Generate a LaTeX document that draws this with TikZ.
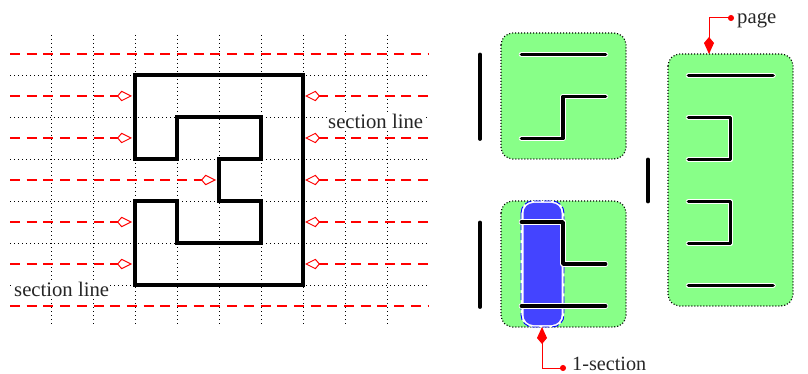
\documentclass[tikz,border=0pt]{standalone}
\usepackage{fontspec}
\setmainfont{Liberation Serif}
\usetikzlibrary{arrows.meta}

\definecolor{pagegreen}{HTML}{88FF88}
\definecolor{sectionblue}{HTML}{4444FF}
\tikzset{
  gridline/.style={black, line width=0.9pt, dash pattern=on 1pt off 3pt},
  sectionline/.style={red, line width=2pt, dash pattern=on 10pt off 6.7pt},
  sectionarrow/.style={sectionline, -{Kite[open, fill=white, length=15pt, width=10.5pt, inset=4.5pt, line width=1pt, sep=0pt]}},
  outline/.style={line width=4.5pt, line join=miter},
  pagebox/.style={fill=pagegreen, draw=black, line width=1.2pt, dash pattern=on 1pt off 2pt, rounded corners=12pt},
  halo/.style={white, line width=5.5pt, line cap=round, line join=round},
  stroke/.style={black, line width=3.8pt, line cap=round, line join=round},
  callout/.style={red, line width=1pt, {Kite[length=17pt, width=10pt, inset=6pt]}-{Circle[length=6pt]}},
  label/.style={font=\fontsize{20.7pt}{24pt}\selectfont, text=black!85, inner sep=0pt}
}
\newcommand{\halostroke}[1]{\draw[halo] #1; \draw[stroke] #1;}

\begin{document}
\begin{tikzpicture}[x=1pt, y=-1pt]
\useasboundingbox (0,0) rectangle (808,374);
% grid
\foreach \x in {51,93,...,387}
  \draw[gridline] (\x,35) -- (\x,327);
\foreach \y in {75,117,...,285}
  \draw[gridline] (10,\y) -- (428,\y);
% labels
\node[label, fill=white, anchor=base west, inner ysep=1pt] (label-right) at (328,129) {section line};
\node[label, fill=white, anchor=base west, inner ysep=1pt] (label-left) at (14,296) {section line};
% section lines
\draw[sectionline] (10,54) -- (428,54);
\draw[sectionline] (10,306) -- (428,306);
\foreach \y in {96,138,222,264} {
  \coordinate (left-start) at (10,\y);
  \coordinate (left-end) at (132,\y);
  \draw[sectionarrow] (left-start) -- (left-end);
}
\coordinate (inner-start) at (10,180);
\coordinate (inner-end) at (216,180);
\draw[sectionarrow] (inner-start) -- (inner-end);
\foreach \y in {96,138,180,222,264} {
  \coordinate (right-start) at (428,\y);
  \coordinate (right-end) at (305,\y);
  \draw[sectionarrow] (right-start) -- (right-end);
}
% outline
\draw[outline]
     (135,75)
  -- ++(168,0)
  -- ++(0,210)
  -- ++(-168,0)
  -- ++(0,-84)
  -- ++(42,0)
  -- ++(0,42)
  -- ++(84,0)
  -- ++(0,-42)
  -- ++(-42,0)
  -- ++(0,-42)
  -- ++(42,0)
  -- ++(0,-42)
  -- ++(-84,0)
  -- ++(0,42)
  -- ++(-42,0)
  -- cycle;
% pages
\draw[pagebox] (501,33) rectangle (626,159);
\draw[pagebox] (501,201) rectangle (626,327);
\draw[pagebox] (668,54) rectangle (793,306);
% 1-section
\draw[fill=white, draw=blue, line width=0.9pt, dash pattern=on 7pt off 3pt, rounded corners=12pt] (521,201) rectangle (564,327);
\fill[sectionblue, rounded corners=10pt] (523.5,203) rectangle (561.5,325);
% strokes
\draw[stroke] (480,54.5) -- ++(0,84.5);
\draw[stroke] (480,222.5) -- ++(0,84.5);
\draw[stroke] (648,159.5) -- ++(0,42);
\halostroke{(521.5,54.5) -- ++(84,0)}
\halostroke{(521.5,138.5) -- ++(41.5,0) -- ++(0,-42) -- ++(42.5,0)}
\halostroke{(521.5,222) -- ++(41.5,0) -- ++(0,42) -- ++(42.5,0)}
\halostroke{(521.5,306) -- ++(84,0)}
\halostroke{(688.5,75.5) -- ++(84.5,0)}
\halostroke{(688.5,117.5) -- ++(42,0) -- ++(0,42) -- ++(-42,0)}
\halostroke{(688.5,201.5) -- ++(42,0) -- ++(0,42) -- ++(-42,0)}
\halostroke{(688.5,285.5) -- ++(84.5,0)}
% callouts
\coordinate (page-top) at (709,54);
\coordinate (page-dot) at (734,18);
\node[label, anchor=base west] (page-label) at (737,24) {page};
\draw[callout] (page-top) -- (page-top |- page-dot) -- (page-dot);
\coordinate (section-bottom) at (542,327);
\coordinate (section-dot) at (566,368);
\node[label, anchor=base west, font=\fontsize{20.2pt}{24pt}\selectfont] (section-label) at (572,370) {1-section};
\draw[callout] (section-bottom) -- (section-bottom |- section-dot) -- (section-dot);
\end{tikzpicture}
\end{document}
